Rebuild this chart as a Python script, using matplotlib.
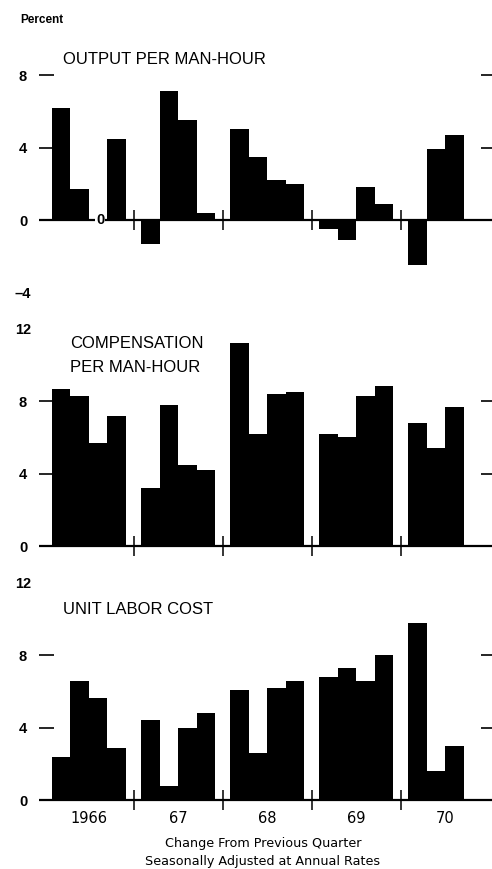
import matplotlib
matplotlib.use("Agg")
import matplotlib.pyplot as plt

# Quarterly change, percent at annual rates
years = ["1966", "67", "68", "69", "70"]
quarters_per_year = [4, 4, 4, 4, 3]

output_per_hour = [6.2, 1.7, 0.0, 4.5,
                   -1.3, 7.1, 5.5, 0.4,
                   5.0, 3.5, 2.2, 2.0,
                   -0.5, -1.1, 1.8, 0.9,
                   -2.5, 3.9, 4.7]
compensation = [8.7, 8.3, 5.7, 7.2,
                3.2, 7.8, 4.5, 4.2,
                11.2, 6.2, 8.4, 8.5,
                6.2, 6.0, 8.3, 8.85,
                6.8, 5.4, 7.7]
unit_labor_cost = [2.4, 6.6, 5.65, 2.85,
                   4.4, 0.75, 4.0, 4.8,
                   6.05, 2.6, 6.2, 6.55,
                   6.8, 7.3, 6.55, 8.0,
                   9.8, 1.6, 3.0]

num_font = ["Liberation Sans", "DejaVu Sans"]
title_font = ["Liberation Sans", "DejaVu Sans"]
plt.rcParams["font.family"] = num_font

W, H = 492, 869
fig = plt.figure(figsize=(W / 100, H / 100), dpi=100)

period = 4.82  # year block width in bar units
x_pos = []
for y, n in enumerate(quarters_per_year):
    for q in range(n):
        x_pos.append(y * period + q)
separators = [y * period - 0.4 for y in range(1, len(years))]

# pixel layout
left_px, right_px = 39, 496
first_bar_px = 52
bar_px = 18.49
s = 18.1  # pixels per percent


def make_panel(zero_px, lo, hi):
    top_px = zero_px - hi * s
    bot_px = zero_px - lo * s
    ax = fig.add_axes([left_px / W, 1 - bot_px / H,
                       (right_px - left_px) / W, (bot_px - top_px) / H])
    ax.set_xlim((left_px - first_bar_px) / bar_px,
                (right_px - first_bar_px) / bar_px)
    ax.set_ylim(lo, hi)
    for sp in ax.spines.values():
        sp.set_visible(False)
    ax.set_xticks([])
    return ax


def draw(ax, values, major, minor):
    ax.bar(x_pos, values, width=1.0, align="edge", color="black", lw=0)
    ax.axhline(0, color="black", lw=1.6, zorder=3)
    for sx in separators:
        ax.plot([sx, sx], [-0.55, 0.55], color="black", lw=1.1,
                zorder=4, solid_capstyle="butt")
    ax.set_yticks(major)
    ax.set_yticklabels([str(v) for v in major], fontsize=10.5,
                       weight="bold", ha="center")
    ax.set_yticks(minor, minor=True)
    ax.set_yticklabels([str(v).replace("-", "\u2013") for v in minor],
                       minor=True, fontsize=10.5, weight="bold", ha="center")
    ax.tick_params(axis="y", which="major", direction="in", length=11,
                   width=1.2, pad=11.5, left=True, right=True)
    ax.tick_params(axis="y", which="minor", length=0, pad=11.5)
    for xv, v in zip(x_pos, values):
        if v == 0:
            ax.text(xv + 0.6, 0, "0", ha="center", va="center",
                    fontsize=10.5, weight="bold", zorder=5,
                    bbox=dict(facecolor="white", edgecolor="none", pad=0.5))


ax1 = make_panel(220, -4.3, 9.5)
draw(ax1, output_per_hour, [0, 4, 8], [-4])

ax2 = make_panel(546, -0.8, 12.5)
draw(ax2, compensation, [0, 4, 8], [12])

ax3 = make_panel(800, -0.8, 12.5)
draw(ax3, unit_labor_cost, [0, 4, 8], [12])

# year labels under the bottom panel
for y, name in enumerate(years):
    ax3.text(y * period + 2, -1.0, name, ha="center", va="center",
             fontsize=10.5, family="DejaVu Sans")


def ftext(x, y, t, **kw):
    fig.text(x / W, 1 - y / H, t, **kw)


ftext(20, 20, "Percent", fontsize=8.5, weight="bold", va="center")
ftext(63, 60, "OUTPUT PER MAN-HOUR", fontsize=12, family=title_font,
      va="center")
ftext(70, 343, "COMPENSATION", fontsize=12, family=title_font, va="center")
ftext(70, 368, "PER MAN-HOUR", fontsize=12, family=title_font, va="center")
ftext(63, 610, "UNIT LABOR COST", fontsize=12, family=title_font,
      va="center")
ftext(263, 843, "Change From Previous Quarter", fontsize=9.2,
      family="DejaVu Sans", ha="center", va="center")
ftext(263, 862, "Seasonally Adjusted at Annual Rates", fontsize=9.2,
      family="DejaVu Sans", ha="center", va="center")

fig.savefig("out.png", dpi=100)
